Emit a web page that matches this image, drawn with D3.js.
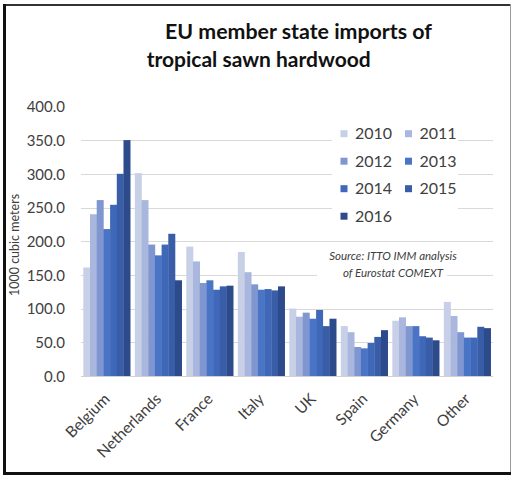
<!DOCTYPE html>
<html><head><meta charset="utf-8">
<script src="https://cdn.jsdelivr.net/npm/d3@7"></script>
<style>
html,body{margin:0;padding:0;background:#fff;}
svg text{font-family:Lato,"Open Sans",sans-serif;}
</style></head>
<body>
<svg id="c" width="516" height="478"></svg>
<script>
const categories = ["Belgium","Netherlands","France","Italy","UK","Spain","Germany","Other"];
const years = ["2010","2011","2012","2013","2014","2015","2016"];
const v2010 = [161,301,192,184,100,74,82,110];
const v2011 = [240,261,170,154,88,65,87,89];
const v2012 = [261,195,138,136,94,43,74,65];
const v2013 = [218,179,142,128,85,41,74,57];
const v2014 = [254,195,128,129,98,49,59,57];
const v2015 = [300,211,133,127,74,58,57,73];
const v2016 = [350,142,134,133,85,68,53,71];
const series = [v2010,v2011,v2012,v2013,v2014,v2015,v2016];
const yTicks = [0,50,100,150,200,250,300,350,400];
const colors = ["#c8d0e8","#a9b7de","#8096d0","#4a74c6","#3f68b9","#395da7","#2d4b8b"];

const svg = d3.select("#c");

// frame
svg.append("rect").attr("x",0).attr("y",0).attr("width",516).attr("height",478).attr("fill","#fff");
svg.append("line").attr("x1",3).attr("x2",511).attr("y1",5).attr("y2",5).attr("stroke","#333").attr("stroke-width",2);
svg.append("line").attr("x1",4.5).attr("x2",4.5).attr("y1",4).attr("y2",475).attr("stroke","#111").attr("stroke-width",3);
svg.append("line").attr("x1",510.5).attr("x2",510.5).attr("y1",4).attr("y2",474).attr("stroke","#999").attr("stroke-width",1);
svg.append("line").attr("x1",3).attr("x2",511).attr("y1",473.5).attr("y2",473.5).attr("stroke","#111").attr("stroke-width",3);

const x0 = d3.scaleBand().domain(categories).range([81,493]).paddingInner(0.09).paddingOuter(0.045);
const x1 = d3.scaleBand().domain(years).range([0,x0.bandwidth()]);
const y = d3.scaleLinear().domain([0,400]).range([376,106.4]);

// gridlines
svg.append("g").selectAll("line").data(yTicks.filter(t=>t>0 && t<400)).join("line")
  .attr("x1",81).attr("x2",493).attr("y1",d=>Math.round(y(d))+0.5).attr("y2",d=>Math.round(y(d))+0.5)
  .attr("stroke","#d9d9d9").attr("stroke-width",1);

// y axis tick labels
const yAxis = d3.axisLeft(y).tickValues(yTicks).tickFormat(d3.format(".1f")).tickSize(0).tickPadding(0);
const ga = svg.append("g").attr("transform","translate(65,0)").call(yAxis);
ga.select(".domain").remove();
ga.selectAll("text").attr("font-size",15).attr("fill","#404040").attr("font-family","Lato,sans-serif").attr("dy","0.35em");

// bars
const g = svg.append("g");
categories.forEach((c,ci)=>{
  g.append("g").attr("transform",`translate(${x0(c)},0)`)
   .selectAll("rect").data(years.map((yr,si)=>({yr,v:series[si][ci],si}))).join("rect")
   .attr("x",d=>x1(d.yr)).attr("width",x1.bandwidth()+0.3)
   .attr("y",d=>y(d.v)).attr("height",d=>y(0)-y(d.v))
   .attr("fill",d=>colors[d.si]);
});

// baseline
svg.append("line").attr("x1",81).attr("x2",493).attr("y1",376.5).attr("y2",376.5).attr("stroke","#d0d0d0");

// x labels
svg.append("g").selectAll("text").data(categories).join("text")
  .attr("transform",d=>`translate(${x0(d)+x0.bandwidth()/2+4},400) rotate(-45)`)
  .attr("text-anchor","end").attr("font-size",15.5).attr("fill","#404040").text(d=>d);

// y label
svg.append("text").attr("transform","translate(19,245) rotate(-90)").attr("text-anchor","middle")
  .attr("font-size",12.5).attr("fill","#404040").text("1000 cubic meters");

// legend
svg.append("rect").attr("x",332).attr("y",120).attr("width",126).attr("height",110).attr("fill","#fff");
const lg = svg.append("g");
years.forEach((yr,i)=>{
  const col = i%2, row = Math.floor(i/2);
  const lx = col===0 ? 340.5 : 405, ly = 133.7 + row*27.5;
  lg.append("rect").attr("x",lx).attr("y",ly-3.5).attr("width",7).attr("height",7).attr("fill",colors[i]);
  lg.append("text").attr("x",lx+14.5).attr("y",ly).attr("dy","0.36em").attr("font-size",16).attr("fill","#404040").text(yr);
});

// source
svg.append("rect").attr("x",317).attr("y",249).attr("width",130).attr("height",33).attr("fill","#fff");
svg.append("text").attr("x",393).attr("y",260).attr("text-anchor","middle").attr("font-size",11.5).attr("font-style","italic").attr("fill","#404040").text("Source: ITTO IMM analysis");
svg.append("text").attr("x",393).attr("y",276.5).attr("text-anchor","middle").attr("font-size",11.5).attr("font-style","italic").attr("fill","#404040").text("of Eurostat COMEXT");

// title
svg.append("text").attr("x",165).attr("y",39).attr("font-size",20.5).attr("font-weight","bold").attr("fill","#111")
  .attr("textLength",267).attr("lengthAdjust","spacingAndGlyphs").text("EU member state imports of");
svg.append("text").attr("x",146.7).attr("y",67).attr("font-size",20.5).attr("font-weight","bold").attr("fill","#111")
  .attr("textLength",224).attr("lengthAdjust","spacingAndGlyphs").text("tropical sawn hardwood");
</script>
</body></html>
